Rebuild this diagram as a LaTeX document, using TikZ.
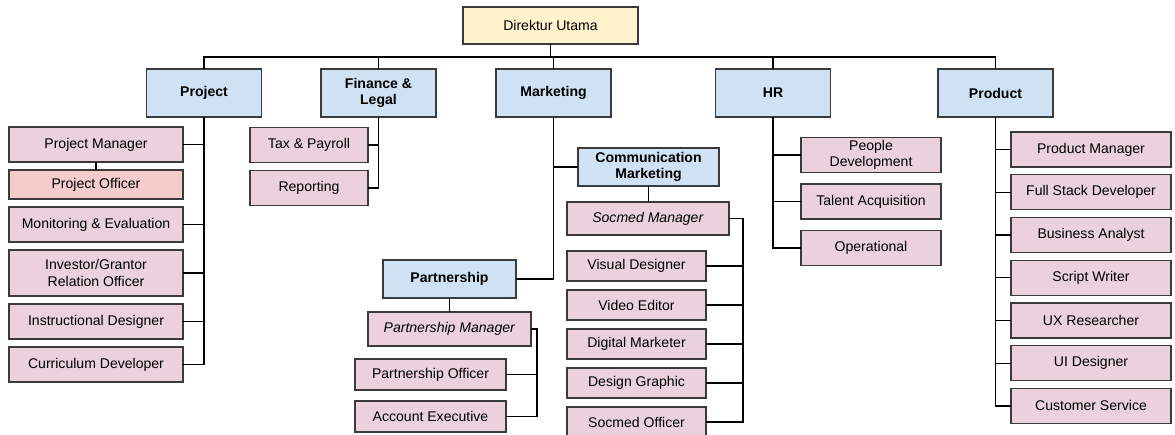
\documentclass[tikz,border=0pt]{standalone}
\usepackage{fontspec}
\setmainfont{Liberation Sans}
\usetikzlibrary{chains,positioning,scopes}
\definecolor{headfill}{HTML}{FFF2CC}
\definecolor{deptfill}{HTML}{CFE2F3}
\definecolor{rolefill}{HTML}{EAD1DC}
\definecolor{officerfill}{HTML}{F4CCCC}
\definecolor{boxline}{HTML}{3A3A3A}

\begin{document}
\begin{tikzpicture}[
            x=0.02cm, y=-0.02cm,
            font=\fontsize{8}{9.5}\selectfont,
            line width=0.8pt,
            Block/.style={draw=boxline, align=center, inner sep=1pt, outer sep=0pt},
            HeadBlock/.style={Block, fill=headfill, minimum width=3.5cm, minimum height=0.74cm},
            DeptBlock/.style={Block, fill=deptfill, font=\fontsize{8}{9.5}\selectfont\bfseries},
            RoleBlock/.style={Block, fill=rolefill, minimum height=0.7cm},
            ]
            \useasboundingbox (0,0) rectangle (1175,434);

            \node [HeadBlock] (direktur) at (550.5,25.5) {Direktur Utama};

            { [DeptBlock/.append style={minimum width=2.3cm, minimum height=0.96cm}]
            \node [DeptBlock] (project) at (204,93) {Project};
            \node [DeptBlock] (finance) at (378.5,93) {Finance \&\\Legal};
            \node [DeptBlock] (marketing) at (553.5,93) {Marketing};
            \node [DeptBlock] (hr) at (773,93) {HR};
            \node [DeptBlock] (product) at (995.5,93) {Product};
            }

            % project
            { [start chain = going below, node distance = 0.16cm,
               RoleBlock/.append style={minimum width=3.48cm}]
            \node [RoleBlock] (pm) at (96,144.5) {Project Manager};
            \chainin (pm);
            \node [RoleBlock, on chain, minimum height=0.58cm, fill=officerfill] (po) {Project Officer};
            \node [RoleBlock, on chain] (me) {Monitoring \& Evaluation};
            \node [RoleBlock, on chain, minimum height=0.92cm] (igro) {Investor/Grantor\\Relation Officer};
            \node [RoleBlock, on chain] (id) {Instructional Designer};
            \node [RoleBlock, on chain] (cd) {Curriculum Developer};
            }

            % finance
            { [start chain = going below, node distance = 0.16cm,
               RoleBlock/.append style={minimum width=2.36cm}]
            \node [RoleBlock] (tax) at (309,145) {Tax \& Payroll};
            \chainin (tax);
            \node [RoleBlock, on chain] (reporting) {Reporting};
            }

            % marketing
            \node [DeptBlock, minimum width=2.82cm, minimum height=0.76cm] (comm) at (648.5,167) {Communication\\Marketing};
            \node [RoleBlock, minimum width=3.24cm, minimum height=0.66cm] (smgr) at (648,218.5) {\textit{Socmed Manager}};
            { [start chain = going below, node distance = 0.18cm,
               RoleBlock/.append style={minimum width=2.78cm, minimum height=0.6cm}]
            \node [RoleBlock] (visual) at (636.5,266) {Visual Designer};
            \chainin (visual);
            \node [RoleBlock, on chain] (video) {Video Editor};
            \node [RoleBlock, on chain] (digital) {Digital Marketer};
            \node [RoleBlock, on chain] (design) {Design Graphic};
            \node [RoleBlock, on chain] (socofficer) {Socmed Officer};
            }

            \node [DeptBlock, minimum width=2.66cm, minimum height=0.76cm] (pship) at (449.5,279) {Partnership};
            \node [RoleBlock, minimum width=3.26cm, minimum height=0.68cm] (pmgr) at (449.5,329) {\textit{Partnership Manager}};
            { [start chain = going below, node distance = 0.22cm,
               RoleBlock/.append style={minimum width=3.02cm, minimum height=0.62cm}]
            \node [RoleBlock] (pofficer) at (430.5,374.5) {Partnership Officer};
            \chainin (pofficer);
            \node [RoleBlock, on chain] (ae) {Account Executive};
            }

            % hr
            { [start chain = going below, node distance = 0.23cm,
               RoleBlock/.append style={minimum width=2.8cm}]
            \node [RoleBlock] (people) at (871,155) {People\\Development};
            \chainin (people);
            \node [RoleBlock, on chain] (talent) {Talent Acquisition};
            \node [RoleBlock, on chain] (operational) {Operational};
            }

            % product
            { [start chain = going below, node distance = 0.155cm,
               RoleBlock/.append style={minimum width=3.2cm}]
            \node [RoleBlock] (prodmgr) at (1091,149.5) {Product Manager};
            \chainin (prodmgr);
            \node [RoleBlock, on chain] (fullstack) {Full Stack Developer};
            \node [RoleBlock, on chain] (analyst) {Business Analyst};
            \node [RoleBlock, on chain] (script) {Script Writer};
            \node [RoleBlock, on chain] (ux) {UX Researcher};
            \node [RoleBlock, on chain] (ui) {UI Designer};
            \node [RoleBlock, on chain] (custservice) {Customer Service};
            }

            % connectors
            \coordinate (bus) at (550,57);
            \draw (direktur.south) -- (direktur.south |- bus);
            \draw (project.north) |- (bus) -| (product.north);
            \foreach \d in {finance, marketing, hr}
                \draw (\d.north) -- (\d.north |- bus);

            \draw (project.south) |- (cd.east);
            \foreach \r in {pm, me, igro, id}
                \draw (\r.east) -- (\r.east -| project.south);
            \draw (pm.south) -- (po.north);

            \draw (finance.south) |- (reporting.east);
            \draw (tax.east) -- (tax.east -| finance.south);

            \draw (marketing.south) |- (pship.east);
            \draw (comm.west) -- (comm.west -| marketing.south);
            \draw (comm.south) -- (comm.south |- smgr.north);
            \draw (smgr.east) -- ++(14,0) coordinate (smbus) |- (socofficer.east);
            \foreach \r in {visual, video, digital, design}
                \draw (\r.east) -- (\r.east -| smbus);

            \draw (pship.south) -- (pship.south |- pmgr.north);
            \draw (pmgr.east) -- ++(6,0) coordinate (pmbus) |- (ae.east);
            \draw (pofficer.east) -- (pofficer.east -| pmbus);

            \draw (hr.south) |- (operational.west);
            \foreach \r in {people, talent}
                \draw (\r.west) -- (\r.west -| hr.south);

            \draw (product.south) |- (custservice.west);
            \foreach \r in {prodmgr, fullstack, analyst, script, ux, ui}
                \draw (\r.west) -- (\r.west -| product.south);

        \end{tikzpicture}
\end{document}
